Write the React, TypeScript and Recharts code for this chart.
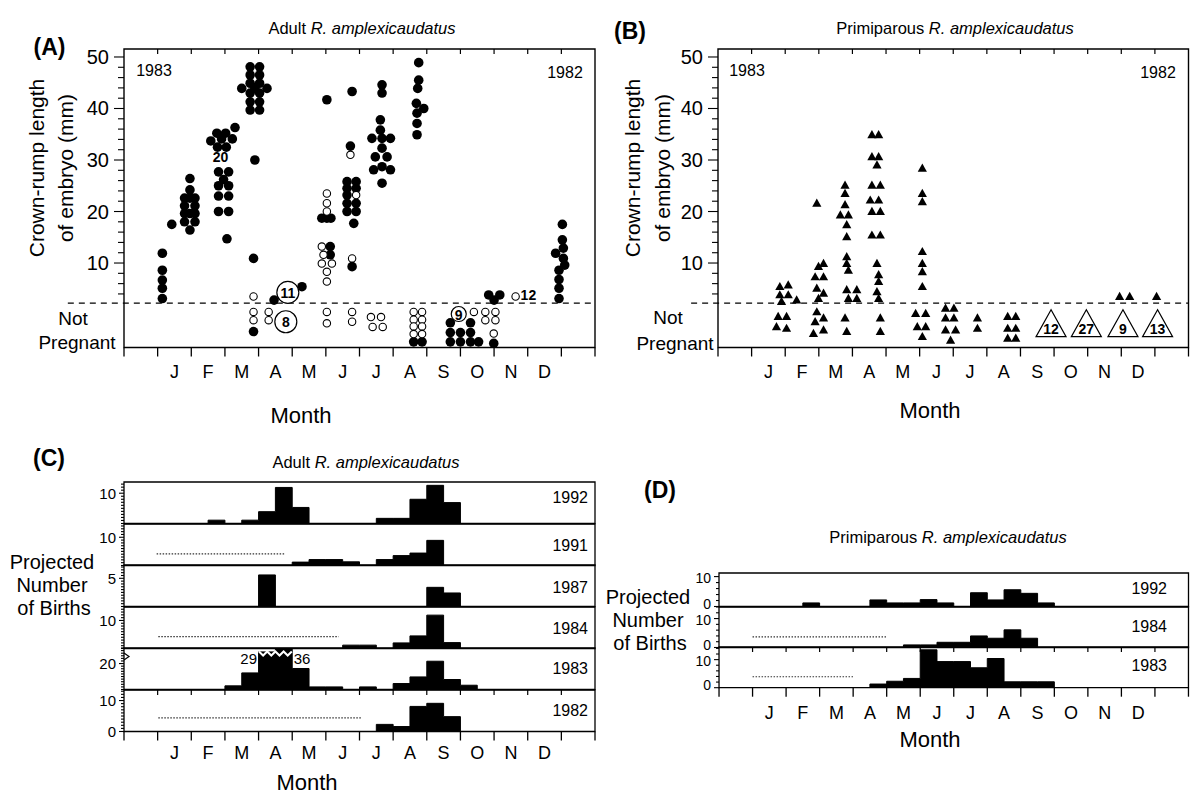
import React from 'react';
import { ScatterChart, Scatter, AreaChart, Area, XAxis, YAxis, ReferenceLine, ReferenceArea } from 'recharts';

const FONT = '"Liberation Sans", Arial, Helvetica, sans-serif';

// month axis runs 0..14, January occupies 1..2
const MONTHS = ['J', 'F', 'M', 'A', 'M', 'J', 'J', 'A', 'S', 'O', 'N', 'D'];
const MONTH_EDGES = Array.from({ length: 15 }, (_, i) => i);
const MONTH_MIDS = MONTHS.map((_, i) => i + 1.5);

// (A) adult females: [month position, crown-rump length mm]; below the dashed line = not pregnant
const adultFilled = [
  [1.14, 11.9], [1.14, 8.6], [1.14, 6.7], [1.14, 5.1], [1.14, 3.1], [1.42, 17.5],
  [1.96, 26.4], [1.96, 24.2], [1.8, 22.6], [1.96, 22.6], [2.11, 22.6], [1.8, 21.1], [2.11, 21.1],
  [1.8, 19.6], [1.96, 19.6], [2.11, 19.6], [1.8, 18.0], [2.11, 18.0], [1.96, 16.4],
  [2.58, 33.7], [2.76, 35.2], [3.02, 35.2], [2.9, 34.1], [3.22, 34.1], [3.3, 36.3], [2.78, 32.5], [3.04, 32.5],
  [2.81, 27.7], [3.11, 27.7], [2.96, 26.2], [2.81, 25.0], [3.11, 25.0], [2.81, 23.0], [3.11, 23.0],
  [2.81, 20.0], [3.11, 20.0], [3.06, 14.7],
  [3.75, 48.1], [4.03, 48.1], [3.75, 46.5], [4.03, 46.5], [3.75, 44.9], [4.03, 44.9], [3.5, 43.9], [3.89, 43.9], [4.25, 43.9],
  [3.75, 43.0], [4.03, 43.0], [3.75, 41.3], [4.03, 41.3], [3.75, 39.7], [4.03, 39.7],
  [3.89, 30.0], [3.85, 10.9], [3.85, -3.3], [4.46, 2.8], [5.29, 5.4],
  [6.03, 41.7], [5.88, 18.7], [6.03, 18.7], [6.15, 18.7], [6.13, 13.2], [6.13, 11.6],
  [6.78, 43.3], [6.73, 32.7],
  [6.63, 25.8], [6.9, 25.8], [6.63, 24.5], [6.9, 24.5], [6.63, 23.2], [6.63, 21.6], [6.9, 21.6], [6.63, 20.0], [6.9, 20.0],
  [6.83, 17.7], [6.78, 9.3],
  [7.67, 44.6], [7.67, 43.0], [7.62, 37.8], [7.62, 35.8], [7.37, 34.2], [7.67, 34.2], [7.92, 34.2], [7.67, 32.3],
  [7.47, 30.6], [7.82, 30.6], [7.42, 28.1], [7.67, 28.7], [7.92, 28.1], [7.67, 25.5],
  [8.76, 48.9], [8.76, 45.5], [8.73, 43.9], [8.69, 41.0], [8.91, 40.0], [8.71, 39.1], [8.71, 37.1], [8.71, 34.9],
  [8.61, -5.3], [8.86, -5.3],
  [9.7, -1.6], [9.7, -3.5], [9.7, -5.3], [10.0, -3.5], [10.0, -5.3], [10.3, -1.6], [10.3, -3.5], [10.3, -5.3], [10.54, -5.3],
  [10.84, 3.8], [11.17, 3.8], [11.0, 2.8], [10.99, -5.6],
  [13.03, 17.5], [13.03, 14.5], [13.06, 12.9], [12.83, 11.9], [13.06, 10.9], [13.1, 9.6], [12.93, 8.6], [12.93, 6.8], [12.93, 5.1], [12.93, 3.1],
];
const adultOpen = [
  [3.85, 3.5], [3.85, 0.5], [3.85, -1.1], [4.3, 0.5], [4.3, -1.1],
  [6.03, 23.5], [6.03, 21.6], [6.03, 20.0], [5.88, 13.2], [5.93, 11.6], [5.88, 9.9], [6.18, 9.9], [6.03, 8.3], [6.03, 6.4], [6.03, 0.5], [6.03, -1.7],
  [6.9, 23.2], [6.73, 31.0], [6.78, 10.9], [6.78, 0.5], [6.78, -1.4],
  [7.34, -0.5], [7.64, -0.5], [7.39, -2.4], [7.69, -2.4],
  [8.61, 0.5], [8.86, 0.5], [8.61, -1.0], [8.86, -1.0], [8.61, -2.3], [8.86, -2.3], [8.61, -3.8], [8.86, -3.8],
  [10.4, 0.5],
  [10.74, 0.5], [11.04, 0.5], [10.74, -1.1], [11.04, -1.1], [10.99, -3.7],
  [11.64, 3.5],
];
// grouped counts drawn as numbered circles
const adultCountsBig = [[4.87, 4.3, 11], [4.81, -1.4, 8]];
const adultCountsSmall = [[9.95, 0.1, 9]];
const adultNotes = [[2.87, 30.6, '20'], [12.02, 3.8, '12']];

// (B) primiparous females
const primFilled = [
  [1.84, 5.4], [2.09, 5.7], [1.84, 3.8], [2.09, 3.8], [1.89, 2.5], [2.34, 2.8], [1.79, -0.4], [2.04, -0.4], [1.74, -2.4], [2.04, -2.7],
  [2.94, 21.6], [2.99, 9.3], [3.14, 9.9], [2.89, 7.3], [3.14, 7.3], [2.94, 5.1], [2.99, 3.1], [3.14, 4.1], [2.94, 0.5], [2.89, -1.4], [3.14, -0.7], [2.84, -3.7], [3.14, -3.0],
  [3.78, 25.1], [3.78, 23.5], [3.78, 21.3], [3.64, 19.3], [3.88, 19.3], [3.83, 17.4], [3.83, 15.1], [3.83, 11.2], [3.83, 9.9], [3.88, 8.6],
  [3.83, 4.8], [4.13, 4.8], [3.88, 3.1], [4.13, 3.1], [3.78, -0.7], [3.83, -3.3],
  [4.58, 34.9], [4.78, 34.9], [4.58, 30.6], [4.78, 30.6], [4.73, 29.0], [4.58, 25.1], [4.83, 25.1], [4.53, 22.2], [4.78, 22.2], [4.58, 20.0], [4.83, 20.0],
  [4.58, 15.4], [4.83, 15.4], [4.73, 9.9], [4.78, 7.7], [4.78, 6.4], [4.73, 4.4], [4.78, 3.1], [4.83, -0.7], [4.83, -3.3],
  [6.08, 28.4], [6.08, 23.5], [6.08, 21.9], [6.08, 12.2], [6.08, 9.9], [6.08, 8.3], [6.08, 5.4], [5.88, 0.2], [6.18, 0.2], [5.93, -2.4], [6.18, -2.4], [6.08, -4.3],
  [6.77, 1.2], [7.02, 1.2], [6.77, -0.7], [7.02, -0.7], [6.77, -3.0], [7.07, -3.0], [6.92, -5.0],
  [7.72, -0.7], [7.72, -2.7],
  [8.62, -0.4], [8.86, -0.4], [8.62, -2.7], [8.86, -2.7], [8.62, -4.6], [8.86, -4.6],
  [11.95, 3.5], [12.25, 3.5], [13.05, 3.5],
];
const primCounts = [[9.91, -1.7, 12], [10.96, -1.7, 27], [12.05, -1.7, 9], [13.08, -1.7, 13]];

const EMBRYO_DOMAIN = [-6.4, 51.55];
const EMBRYO_TICKS = Array.from({ length: 24 }, (_, i) => 4 + i * 2);
const EMBRYO_LABELS = [10, 20, 30, 40, 50];
const NOT_PREGNANT = 2.2;

// (C) adult projected births, half-month bins: [bin start, births]
const c1992 = [[2.5, 1.1], [3.5, 1.1], [4.0, 3.9], [4.5, 11.9], [5.0, 5.3], [7.5, 1.7], [8.0, 1.7], [8.5, 8.0], [9.0, 12.6], [9.5, 6.9]];
const c1991 = [[5.0, 1.2], [5.5, 2.1], [6.0, 2.1], [6.5, 1.3], [7.5, 2.1], [8.0, 3.5], [8.5, 4.4], [9.0, 8.9]];
const c1987 = [[4.0, 5.6], [9.0, 3.4], [9.5, 2.4]];
const c1984 = [[6.5, 1.2], [7.0, 1.2], [8.0, 2.0], [8.5, 4.5], [9.0, 11.9], [9.5, 2.1]];
const c1983 = [[3.0, 2.8], [3.5, 12.8], [4.0, 29], [4.5, 36], [5.0, 16.2], [5.5, 2.0], [6.0, 2.0], [7.0, 2.0], [8.0, 4.6], [8.5, 9.7], [9.0, 21.8], [9.5, 7.7], [10.0, 3.3]];
const c1982 = [[7.5, 2.3], [8.0, 1.6], [8.5, 8.1], [9.0, 9.1], [9.5, 4.8]];
// months without samples: [from, to, level]
const c1991Gap = [0.97, 4.8, 4.1];
const c1984Gap = [1.02, 6.38, 4.2];
const c1982Gap = [1.02, 7.05, 4.4];

// (D) primiparous projected births
const d1992 = [[2.5, 1.2], [4.5, 2.2], [5.0, 1.2], [5.5, 1.2], [6.0, 2.3], [6.5, 1.2], [7.5, 4.6], [8.0, 2.2], [8.5, 5.6], [9.0, 4.4], [9.5, 1.2]];
const d1984 = [[5.5, 0.9], [6.0, 0.9], [6.5, 1.8], [7.0, 1.8], [7.5, 4.0], [8.0, 3.2], [8.5, 6.1], [9.0, 3.2]];
const d1983 = [[4.5, 1.3], [5.0, 2.3], [5.5, 3.3], [6.0, 13.5], [6.5, 9.3], [7.0, 9.3], [7.5, 7.1], [8.0, 10.4], [8.5, 2.1], [9.0, 2.1], [9.5, 2.1]];
const d1984Gap = [1.0, 5.0, 3.7];
const d1983Gap = [1.0, 4.03, 3.9];

const pts = (a: any[][]) => a.map(([x, y, n]) => ({ x, y, n }));

const toSteps = (bins: number[][]) => {
  const out: { x: number; v: number }[] = [];
  for (let i = 0; i <= 28; i++) {
    const x = i / 2;
    const hit = bins.find((b) => Math.abs(b[0] - x) < 1e-6);
    out.push({ x, v: hit ? hit[1] : 0 });
  }
  return out;
};

const xTick = (plotH: number, labelDy: number, bottom: boolean) => (p: any) => {
  const v = p.payload.value as number;
  const { x, y } = p;
  if (Number.isInteger(v)) {
    return (
      <g>
        {bottom && <line x1={x} x2={x} y1={y} y2={y + 9} stroke="#000" strokeWidth={1.3} />}
        {v > 0 && v < 14 && <line x1={x} x2={x} y1={y - plotH} y2={y - plotH + 5} stroke="#000" strokeWidth={1.2} />}
      </g>
    );
  }
  return (
    <text x={x} y={y + labelDy} textAnchor="middle" dominantBaseline="central" fontSize={18} fontFamily={FONT} fill="#000">
      {MONTHS[Math.round(v - 1.5)]}
    </text>
  );
};

const yTick = (labels: number[], major: number, minor: number, gap: number, fs: number, nudge = 0) => (p: any) => {
  const v = p.payload.value as number;
  const { x, y } = p;
  const isMajor = labels.some((l) => Math.abs(l - v) < 1e-6);
  const len = isMajor ? major : minor;
  const dy = v === 0 ? -nudge * 2.5 : nudge;
  return (
    <g>
      <line x1={x - len} x2={x} y1={y} y2={y} stroke="#000" strokeWidth={1.1} />
      {isMajor && (
        <text x={x - major - gap} y={y + dy} textAnchor="end" dominantBaseline="central" fontSize={fs} fontFamily={FONT} fill="#000">
          {v}
        </text>
      )}
    </g>
  );
};

const dotFilled = (p: any) => <circle cx={p.cx} cy={p.cy} r={4.8} fill="#000" />;
const dotOpen = (p: any) => <circle cx={p.cx} cy={p.cy} r={3.7} fill="#fff" stroke="#000" strokeWidth={1.1} />;
const countCircle = (r: number) => (p: any) => (
  <g>
    <circle cx={p.cx} cy={p.cy} r={r} fill="#fff" stroke="#000" strokeWidth={1.2} />
    <text x={p.cx} y={p.cy + 0.5} textAnchor="middle" dominantBaseline="central" fontSize={14} fontWeight="bold" fontFamily={FONT}>
      {p.payload.n}
    </text>
  </g>
);
const noteText = (p: any) => (
  <text x={p.cx} y={p.cy} textAnchor="middle" dominantBaseline="central" fontSize={14} fontWeight="bold" fontFamily={FONT}>
    {p.payload.n}
  </text>
);
const triFilled = (p: any) => (
  <polygon points={`${p.cx},${p.cy - 4.8} ${p.cx - 4.6},${p.cy + 3.4} ${p.cx + 4.6},${p.cy + 3.4}`} fill="#000" />
);
const triCount = (p: any) => (
  <g>
    <polygon points={`${p.cx},${p.cy - 13.6} ${p.cx - 15},${p.cy + 13.4} ${p.cx + 15},${p.cy + 13.4}`} fill="#fff" stroke="#000" strokeWidth={1.2} />
    <text x={p.cx} y={p.cy + 6} textAnchor="middle" dominantBaseline="central" fontSize={14} fontWeight="bold" fontFamily={FONT}>
      {p.payload.n}
    </text>
  </g>
);

function EmbryoPanel({ left, top, width, height, dashFrom, children }: any) {
  const yw = 70, mt = 10, mr = 10, xh = 50;
  return (
    <div style={{ position: 'absolute', left: left - yw, top: top - mt }}>
      <ScatterChart width={yw + width + mr} height={mt + height + xh} margin={{ top: mt, right: mr, bottom: 0, left: 0 }}>
        <XAxis type="number" dataKey="x" domain={[0, 14]} ticks={[...MONTH_EDGES, ...MONTH_MIDS]} interval={0} height={xh}
          tickSize={0} tickMargin={0} tickLine={false} axisLine={false} tick={xTick(height, 24.5, true)} allowDataOverflow />
        <YAxis type="number" dataKey="y" domain={EMBRYO_DOMAIN} ticks={EMBRYO_TICKS} interval={0} width={yw}
          tickSize={0} tickMargin={0} tickLine={false} axisLine={false} tick={yTick(EMBRYO_LABELS, 10, 6, 5, 20)} allowDataOverflow />
        <ReferenceArea x1={0} x2={14} y1={EMBRYO_DOMAIN[0]} y2={EMBRYO_DOMAIN[1]} fill="none" stroke="#000" strokeWidth={1.4} ifOverflow="visible" />
        <ReferenceLine segment={[{ x: dashFrom, y: NOT_PREGNANT }, { x: 14, y: NOT_PREGNANT }]} stroke="#000" strokeWidth={1.3}
          strokeDasharray="6 5" ifOverflow="visible" />
        {children}
      </ScatterChart>
    </div>
  );
}

function HistRow({ left, top, width, height, bins, max, step, labels, gap, bottom, labelDy, fs, nudge }: any) {
  const yw = 60, mt = 8, mr = 10;
  const xh = bottom ? 45 : 0;
  const mb = bottom ? 0 : 8;
  const yTicks: number[] = [];
  for (let v = 0; v <= max + 1e-9; v += step) yTicks.push(Math.round(v * 100) / 100);
  return (
    <div style={{ position: 'absolute', left: left - yw, top: top - mt }}>
      <AreaChart width={yw + width + mr} height={mt + height + xh + mb} data={toSteps(bins)} margin={{ top: mt, right: mr, bottom: mb, left: 0 }}>
        <XAxis type="number" dataKey="x" domain={[0, 14]} ticks={bottom ? [...MONTH_EDGES, ...MONTH_MIDS] : MONTH_EDGES} interval={0}
          height={xh} tickSize={0} tickMargin={0} tickLine={false} axisLine={false} tick={xTick(height, labelDy || 22, !!bottom)} />
        <YAxis type="number" domain={[0, max]} ticks={yTicks} interval={0} width={yw} tickSize={0} tickMargin={0}
          tickLine={false} axisLine={false} tick={yTick(labels, 5, 3, 3, fs || 15, nudge || 0)} allowDataOverflow />
        <Area type="stepAfter" dataKey="v" stroke="#000" strokeWidth={1} fill="#000" fillOpacity={1}
          isAnimationActive={false} dot={false} activeDot={false} />
        {gap && (
          <ReferenceLine segment={[{ x: gap[0], y: gap[2] }, { x: gap[1], y: gap[2] }]} stroke="#333" strokeWidth={1.2} strokeDasharray="1.5 1.5" />
        )}
        <ReferenceArea x1={0} x2={14} y1={0} y2={max} fill="none" stroke="#000" strokeWidth={1.3} ifOverflow="visible" />
      </AreaChart>
    </div>
  );
}

const C_LEFT = 124, C_W = 471, C_TOP = 482, C_H = 41.5;
const C_ROWS = [
  { year: '1992', bins: c1992, max: 13.7, step: 1, labels: [10], ly: 497 },
  { year: '1991', bins: c1991, max: 14.7, step: 1, labels: [10], gap: c1991Gap, ly: 545 },
  { year: '1987', bins: c1987, max: 7.36, step: 0.5, labels: [5], ly: 587 },
  { year: '1984', bins: c1984, max: 14.8, step: 1, labels: [10], gap: c1984Gap, ly: 628 },
  { year: '1983', bins: c1983, max: 32, step: 2, labels: [20], ly: 668 },
  { year: '1982', bins: c1982, max: 13.4, step: 1, labels: [0, 10], gap: c1982Gap, ly: 710 },
];

const D_LEFT = 718.5, D_W = 469.5;
const D_ROWS = [
  { year: '1992', bins: d1992, max: 11.2, top: 573, h: 33.5, ly: 588 },
  { year: '1984', bins: d1984, max: 14.0, top: 606.5, h: 40.5, gap: d1984Gap, ly: 626 },
  { year: '1983', bins: d1983, max: 14.5, top: 647, h: 40.7, gap: d1983Gap, ly: 665 },
];

const T = (props: any) => <text textAnchor="middle" dominantBaseline="central" fontFamily={FONT} fill="#000" {...props} />;

export default function App() {
  const zig: string[] = [];
  for (let i = 0; i <= 8; i++) zig.push(`${259 + i * 4.1},${i % 2 ? 655.5 : 651.5}`);
  return (
    <div style={{ position: 'absolute', left: 0, top: 0, width: 1200, height: 810, background: '#fff', fontFamily: FONT, overflow: 'hidden' }}>
      <EmbryoPanel left={124} top={49} width={471} height={298.5} dashFrom={-1.67}>
        <Scatter data={pts(adultFilled)} shape={dotFilled} isAnimationActive={false} />
        <Scatter data={pts(adultOpen)} shape={dotOpen} isAnimationActive={false} />
        <Scatter data={pts(adultCountsBig)} shape={countCircle(11)} isAnimationActive={false} />
        <Scatter data={pts(adultCountsSmall)} shape={countCircle(7.5)} isAnimationActive={false} />
        <Scatter data={pts(adultNotes)} shape={noteText} isAnimationActive={false} />
      </EmbryoPanel>
      <EmbryoPanel left={717.5} top={49} width={470.5} height={298.5} dashFrom={-0.8}>
        <Scatter data={pts(primFilled)} shape={triFilled} isAnimationActive={false} />
        <Scatter data={pts(primCounts)} shape={triCount} isAnimationActive={false} />
      </EmbryoPanel>

      {C_ROWS.map((r, i) => (
        <HistRow key={r.year} left={C_LEFT} top={C_TOP + i * C_H} width={C_W} height={C_H} bins={r.bins} max={r.max}
          step={r.step} labels={r.labels} gap={r.gap} bottom={i === C_ROWS.length - 1} labelDy={21} fs={15} />
      ))}
      {D_ROWS.map((r, i) => (
        <HistRow key={r.year} left={D_LEFT} top={r.top} width={D_W} height={r.h} bins={r.bins} max={r.max}
          step={2} labels={[0, 10]} gap={r.gap} bottom={i === D_ROWS.length - 1} labelDy={25.5} fs={14} nudge={1.2} />
      ))}

      <svg width={1200} height={810} style={{ position: 'absolute', left: 0, top: 0, pointerEvents: 'none' }}>
        {/* panel A */}
        <T x={49.5} y={46.5} fontSize={23} fontWeight="bold">(A)</T>
        <T x={362} y={28} fontSize={16.5}>Adult <tspan fontStyle="italic">R. amplexicaudatus</tspan></T>
        <T transform="translate(36,168) rotate(-90)" fontSize={21}>Crown-rump length</T>
        <T transform="translate(65,168) rotate(-90)" fontSize={21}>of embryo (mm)</T>
        <T x={73} y={318} fontSize={19}>Not</T>
        <T x={77} y={342} fontSize={19}>Pregnant</T>
        <T x={154} y={70} fontSize={16}>1983</T>
        <T x={565} y={72} fontSize={16}>1982</T>
        <T x={301} y={415} fontSize={22}>Month</T>

        {/* panel B */}
        <T x={630} y={31} fontSize={23} fontWeight="bold">(B)</T>
        <T x={955} y={28} fontSize={16.5}>Primiparous <tspan fontStyle="italic">R. amplexicaudatus</tspan></T>
        <T transform="translate(632,168) rotate(-90)" fontSize={21}>Crown-rump length</T>
        <T transform="translate(662,168) rotate(-90)" fontSize={21}>of embryo (mm)</T>
        <T x={668} y={317} fontSize={19}>Not</T>
        <T x={675} y={343} fontSize={19}>Pregnant</T>
        <T x={747} y={70} fontSize={16}>1983</T>
        <T x={1158} y={72} fontSize={16}>1982</T>
        <T x={930} y={410} fontSize={22}>Month</T>

        {/* panel C */}
        <T x={49} y={458} fontSize={23} fontWeight="bold">(C)</T>
        <T x={366} y={462} fontSize={16.5}>Adult <tspan fontStyle="italic">R. amplexicaudatus</tspan></T>
        <T x={52} y={562} fontSize={20}>Projected</T>
        <T x={52} y={585} fontSize={20}>Number</T>
        <T x={54} y={608} fontSize={20}>of Births</T>
        {C_ROWS.map((r) => (
          <T key={r.year} x={588} y={r.ly} fontSize={16} textAnchor="end">{r.year}</T>
        ))}
        <polyline points={zig.join(' ')} fill="none" stroke="#fff" strokeWidth={2} />
        <T x={248.7} y={658.3} fontSize={15}>29</T>
        <T x={302} y={658} fontSize={15}>36</T>
        <polyline points="124,653 129,656.5 124,660" fill="none" stroke="#000" strokeWidth={1.2} />
        <T x={307} y={782} fontSize={22}>Month</T>

        {/* panel D */}
        <T x={660} y={490} fontSize={23} fontWeight="bold">(D)</T>
        <T x={948} y={537} fontSize={16.5}>Primiparous <tspan fontStyle="italic">R. amplexicaudatus</tspan></T>
        <T x={648} y={597} fontSize={20}>Projected</T>
        <T x={648} y={620} fontSize={20}>Number</T>
        <T x={650} y={643} fontSize={20}>of Births</T>
        {D_ROWS.map((r) => (
          <T key={r.year} x={1167} y={r.ly} fontSize={16} textAnchor="end">{r.year}</T>
        ))}
        <T x={930} y={739} fontSize={22}>Month</T>
      </svg>
    </div>
  );
}
